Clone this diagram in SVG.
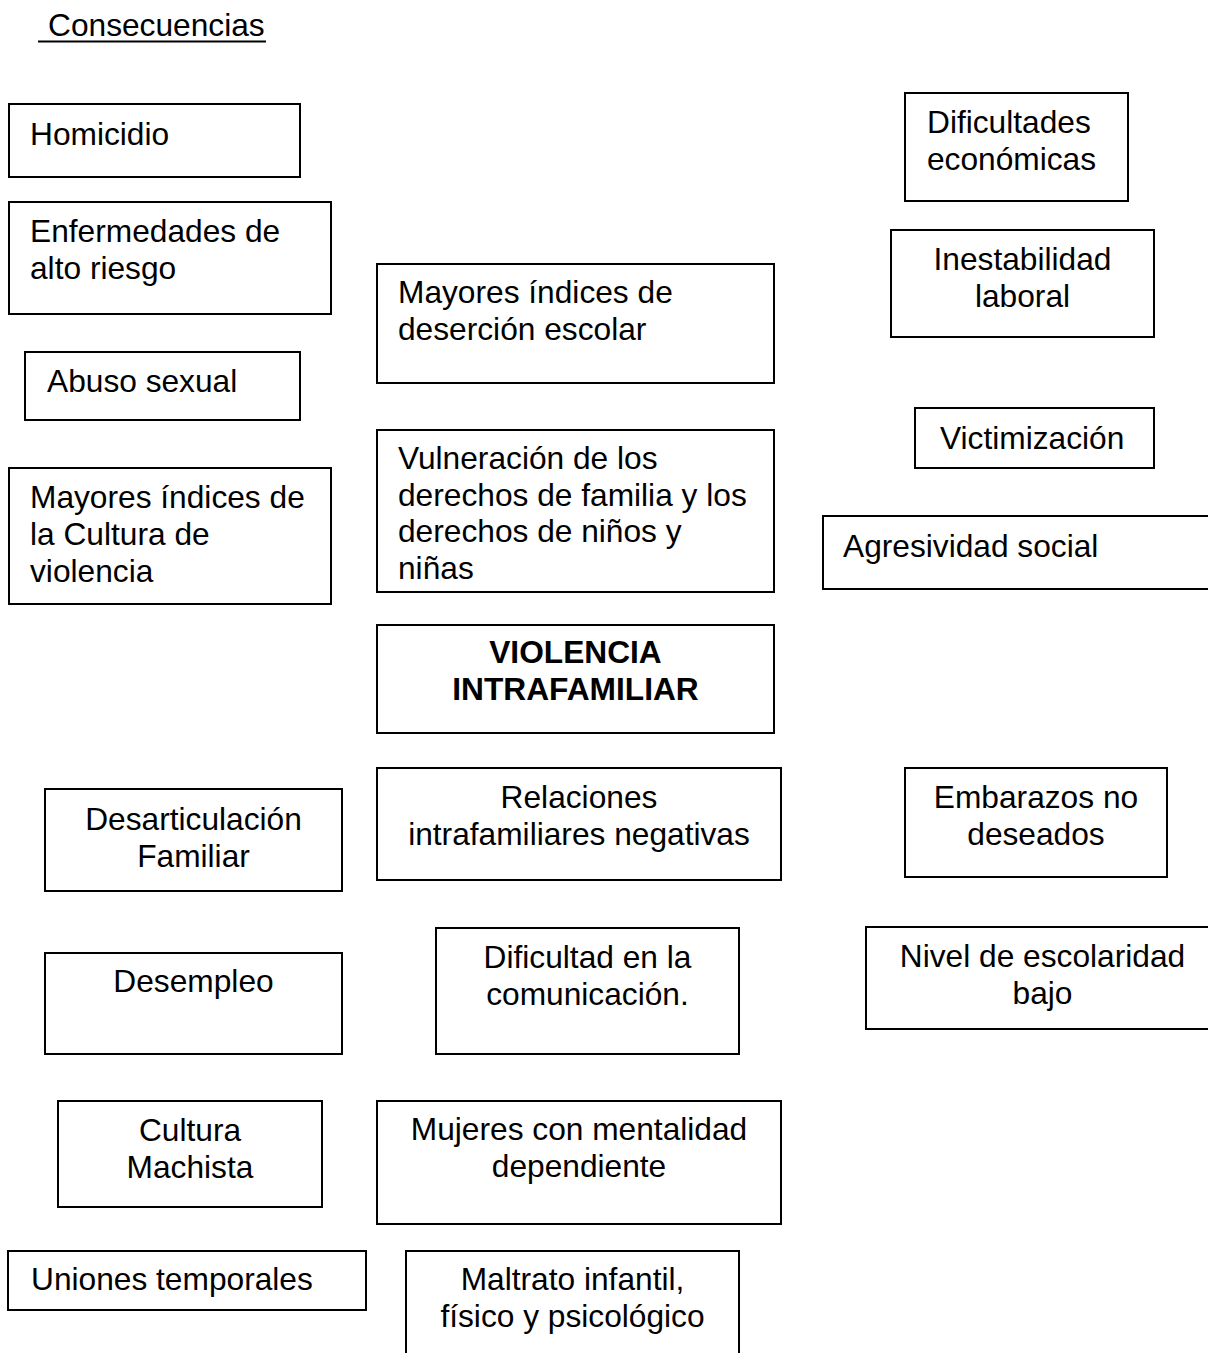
<svg xmlns="http://www.w3.org/2000/svg" width="1208" height="1353" viewBox="0 0 1208 1353">
<style>
  rect.box { fill: #ffffff; stroke: #000000; stroke-width: 2; }
  text { font-family: "Liberation Sans", Arial, sans-serif; font-size: 31.7px; fill: #000000; }
  text.c { text-anchor: middle; }
  text.b { font-weight: bold; }
</style>
<rect x="0" y="0" width="1208" height="1353" fill="#ffffff"/>
<g id="title">
  <text x="48" y="36">Consecuencias</text>
  <line x1="38" y1="41.5" x2="266" y2="41.5" stroke="#000" stroke-width="2"/>
</g>
<g id="connectors"></g>
<g id="homicidio"><rect class="box" x="9" y="104" width="291" height="73"/><text x="30" y="145">Homicidio</text></g>
<g id="enfermedades"><rect class="box" x="9" y="202" width="322" height="112"/><text x="30" y="242">Enfermedades de</text><text x="30" y="279">alto riesgo</text></g>
<g id="abuso"><rect class="box" x="25" y="352" width="275" height="68"/><text x="47" y="392">Abuso sexual</text></g>
<g id="cultura-violencia"><rect class="box" x="9" y="468" width="322" height="136"/><text x="30" y="508">Mayores índices de</text><text x="30" y="545">la Cultura de</text><text x="30" y="582">violencia</text></g>
<g id="desercion"><rect class="box" x="377" y="264" width="397" height="119"/><text x="398" y="303">Mayores índices de</text><text x="398" y="340">deserción escolar</text></g>
<g id="vulneracion"><rect class="box" x="377" y="430" width="397" height="162"/><text x="398" y="469">Vulneración de los</text><text x="398" y="506">derechos de familia y los</text><text x="398" y="542">derechos de niños y</text><text x="398" y="579">niñas</text></g>
<g id="violencia"><rect class="box" x="377" y="625" width="397" height="108"/><text class="c b" x="575.5" y="663">VIOLENCIA</text><text class="c b" x="575.5" y="700">INTRAFAMILIAR</text></g>
<g id="dificultades-economicas"><rect class="box" x="905" y="93" width="223" height="108"/><text x="927" y="133">Dificultades</text><text x="927" y="170">económicas</text></g>
<g id="inestabilidad"><rect class="box" x="891" y="230" width="263" height="107"/><text class="c" x="1022.5" y="270">Inestabilidad</text><text class="c" x="1022.5" y="307">laboral</text></g>
<g id="victimizacion"><rect class="box" x="915" y="408" width="239" height="60"/><text x="940" y="449">Victimización</text></g>
<g id="agresividad"><rect class="box" x="823" y="516" width="400" height="73"/><text x="843" y="557">Agresividad social</text></g>
<g id="desarticulacion"><rect class="box" x="45" y="789" width="297" height="102"/><text class="c" x="193.5" y="830">Desarticulación</text><text class="c" x="193.5" y="867">Familiar</text></g>
<g id="relaciones"><rect class="box" x="377" y="768" width="404" height="112"/><text class="c" x="579" y="808">Relaciones</text><text class="c" x="579" y="845">intrafamiliares negativas</text></g>
<g id="embarazos"><rect class="box" x="905" y="768" width="262" height="109"/><text class="c" x="1036" y="808">Embarazos no</text><text class="c" x="1036" y="845">deseados</text></g>
<g id="desempleo"><rect class="box" x="45" y="953" width="297" height="101"/><text class="c" x="193.5" y="992">Desempleo</text></g>
<g id="comunicacion"><rect class="box" x="436" y="928" width="303" height="126"/><text class="c" x="587.5" y="968">Dificultad en la</text><text class="c" x="587.5" y="1005">comunicación.</text></g>
<g id="escolaridad"><rect class="box" x="866" y="927" width="360" height="102"/><text class="c" x="1042.5" y="967">Nivel de escolaridad</text><text class="c" x="1042.5" y="1004">bajo</text></g>
<g id="machista"><rect class="box" x="58" y="1101" width="264" height="106"/><text class="c" x="190" y="1141">Cultura</text><text class="c" x="190" y="1178">Machista</text></g>
<g id="mujeres"><rect class="box" x="377" y="1101" width="404" height="123"/><text class="c" x="579" y="1140">Mujeres con mentalidad</text><text class="c" x="579" y="1177">dependiente</text></g>
<g id="uniones"><rect class="box" x="8" y="1251" width="358" height="59"/><text x="31" y="1290">Uniones temporales</text></g>
<g id="maltrato"><rect class="box" x="406" y="1251" width="333" height="130"/><text class="c" x="572.5" y="1290">Maltrato infantil,</text><text class="c" x="572.5" y="1327">físico y psicológico</text></g>
</svg>
